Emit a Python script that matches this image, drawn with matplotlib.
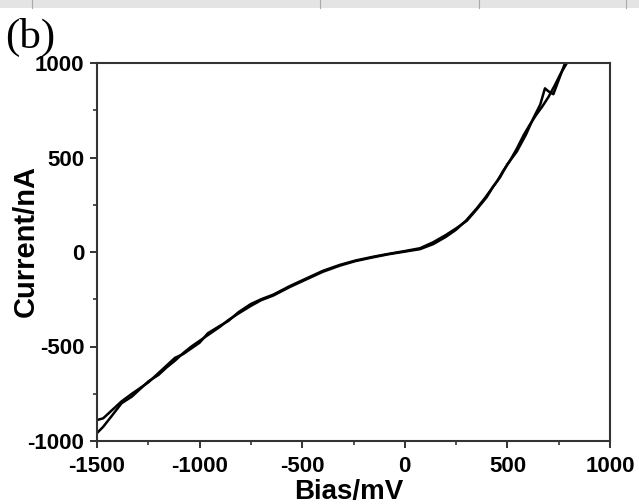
import numpy as np
import matplotlib
matplotlib.use("Agg")
from matplotlib import pyplot as plt
from matplotlib.patches import Rectangle
from matplotlib.ticker import MultipleLocator

# I-V sweep, two branches of the loop (bias in mV, current in nA)
bias_fwd = [-1500, -1470, -1430, -1380, -1330, -1290, -1250, -1200, -1160, -1120,
            -1080, -1040, -1000, -960, -900, -860, -810, -750, -700, -640,
            -560, -480, -400, -316, -240, -154, -80, 0, 74, 139,
            200, 250, 302, 350, 399, 430, 464, 500, 545, 590,
            626, 660, 683, 700, 724, 750, 781]
current_fwd = [-889, -880, -840, -790, -750, -720, -690, -640, -600, -560,
               -540, -510, -480, -430, -390, -365, -318, -275, -250, -225,
               -180, -140, -100, -68, -45, -25, -10, 5, 20, 52,
               90, 125, 165, 225, 290, 345, 395, 465, 530, 620,
               707, 780, 866, 850, 835, 910, 1000]

bias_rev = [790, 760, 730, 700, 670, 640, 610, 580, 545, 510,
            480, 450, 420, 390, 350, 300, 250, 200, 139, 74,
            0, -80, -154, -240, -316, -400, -480, -560, -640, -700,
            -750, -810, -860, -900, -960, -1000, -1040, -1080, -1120, -1160,
            -1200, -1250, -1290, -1330, -1380, -1430, -1470, -1500]
current_rev = [1000, 945, 880, 820, 770, 725, 675, 620, 545, 478,
               430, 375, 330, 285, 230, 168, 118, 80, 42, 15,
               2, -12, -28, -48, -72, -105, -145, -185, -230, -255,
               -285, -325, -360, -395, -440, -470, -500, -535, -575, -610,
               -650, -685, -725, -765, -800, -870, -925, -958]

plt.rcParams['font.family'] = ['Liberation Sans', 'DejaVu Sans']
plt.rcParams['axes.unicode_minus'] = False

fig = plt.figure(figsize=(6.39, 5.04), dpi=100)
ax = fig.add_axes([97 / 639, 1 - 441 / 504, 513 / 639, 378 / 504])

ax.plot(bias_fwd, current_fwd, color='black', lw=1.8)
ax.plot(bias_rev, current_rev, color='black', lw=1.8)

ax.set_xlim(-1500, 1000)
ax.set_ylim(-1000, 1000)
ax.xaxis.set_major_locator(MultipleLocator(500))
ax.xaxis.set_minor_locator(MultipleLocator(250))
ax.yaxis.set_major_locator(MultipleLocator(500))
ax.yaxis.set_minor_locator(MultipleLocator(250))
ax.tick_params(which='major', direction='out', length=5, width=1.4,
               labelsize=16, color='#333333')
ax.tick_params(axis='x', which='major', pad=6)
ax.tick_params(axis='y', which='major', pad=4)
ax.tick_params(which='minor', direction='out', length=3, width=1.2,
               color='#333333')
for lab in ax.get_xticklabels() + ax.get_yticklabels():
    lab.set_fontweight('bold')
for sp in ax.spines.values():
    sp.set_linewidth(1.5)
    sp.set_color('#333333')

ax.set_xlabel('Bias/mV', fontsize=20, fontweight='bold', va='baseline')
ax.set_ylabel('Current/nA', fontsize=21, fontweight='bold', va='center')
ax.xaxis.set_label_coords(0.491, (441 - 499) / 378)
ax.yaxis.set_label_coords(-0.138, 0.528)

fig.text(0.008, 0.99 - 13 / 504, '(b)', fontsize=31, va='top',
         family=['Liberation Serif', 'DejaVu Serif'])

# cut-off info bar of the neighbouring panel at the very top
fig.patches.append(Rectangle((0, 1 - 8 / 504), 1, 8 / 504, transform=fig.transFigure,
                             facecolor='#e4e4e4', edgecolor='none'))
for xs in [0.05, 0.5, 0.75, 0.98]:
    fig.add_artist(plt.Line2D([xs, xs], [1 - 8 / 504, 1], transform=fig.transFigure,
                              color='#aaaaaa', lw=0.8))

fig.savefig('out.png', dpi=100)
